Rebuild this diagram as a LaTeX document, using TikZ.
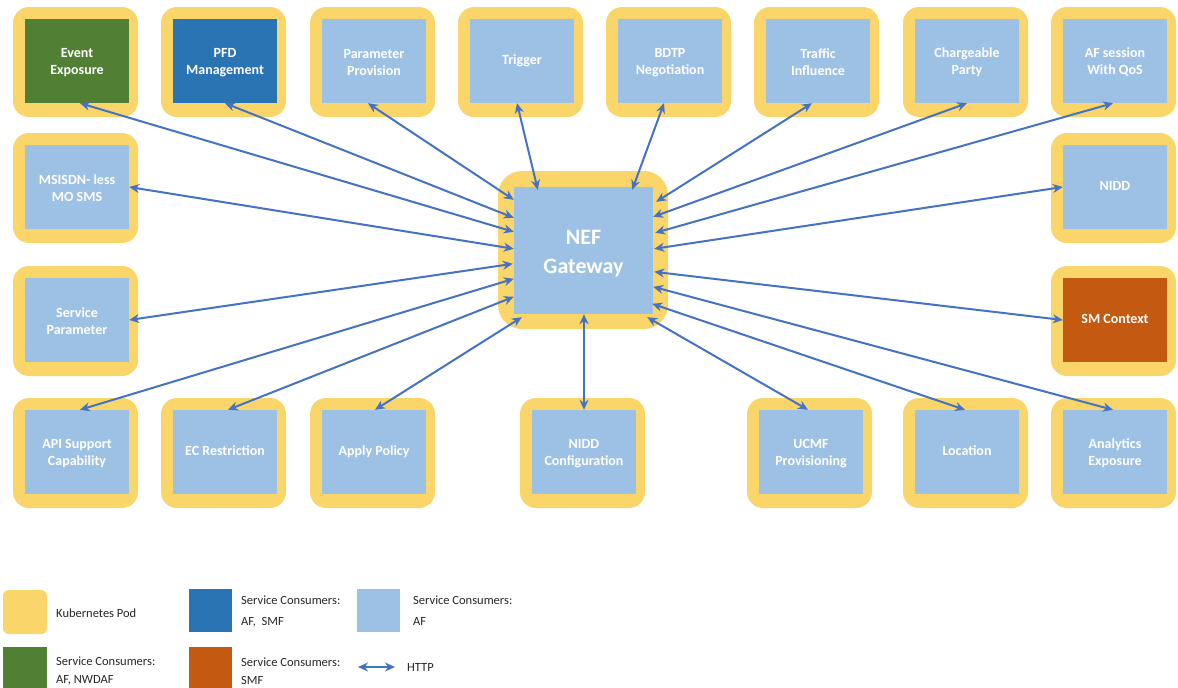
\documentclass[tikz,border=0pt]{standalone}
\usepackage{fontspec}
\setmainfont{Carlito}
\usetikzlibrary{arrows.meta,calc}
\definecolor{podyellow}{HTML}{FAD66A}
\definecolor{afblue}{HTML}{9DC1E4}
\definecolor{smfblue}{HTML}{2A74B4}
\definecolor{nwgreen}{HTML}{517F33}
\definecolor{smforange}{HTML}{C45911}
\definecolor{httpblue}{HTML}{4472C4}
\definecolor{legendtext}{HTML}{262626}

% one service: yellow pod with a coloured service box on top
% #1 name, #2 left, #3 top of the pod, #4 fill colour, #5 label
\newcommand\svc[5]{%
  \node[pod] (#1pod) at ({#2+62.5},{#3+55}) {};
  \node[svcbox, fill=#4] (#1) at ({#2+64},{#3+54}) {\strut#5};
}

\begin{document}
\begin{tikzpicture}[x=1pt,y=-1pt,
  pod/.style={fill=podyellow, draw=none, rounded corners=16pt,
    minimum width=125pt, minimum height=110pt, inner sep=0pt},
  svcbox/.style={draw=none, minimum width=104pt, minimum height=84pt,
    inner sep=0pt, text=white, align=center,
    font=\fontsize{14}{17.5}\selectfont\bfseries},
  http/.style={draw=httpblue, line width=2pt,
    {Stealth[length=10pt,width=9pt]}-{Stealth[length=10pt,width=9pt]}},
  swatch/.style={draw=none, minimum width=43pt, minimum height=43pt, inner sep=0pt},
  legend/.style={anchor=west, align=left, inner sep=0pt, text=legendtext,
    font=\fontsize{12.5}{21}\selectfont},
]
\useasboundingbox (0,0) rectangle (1178,688);

% top row
\svc{ee}{13}{7}{nwgreen}{Event\\Exposure}
\svc{pfd}{161}{7}{smfblue}{PFD\\Management}
\svc{pp}{310}{7}{afblue}{Parameter\\Provision}
\svc{trg}{458}{7}{afblue}{Trigger}
\svc{bdtp}{606}{7}{afblue}{BDTP\\Negotiation}
\svc{ti}{754}{7}{afblue}{Traffic\\Influence}
\svc{cp}{903}{7}{afblue}{Chargeable\\Party}
\svc{afq}{1051}{7}{afblue}{AF session\\With QoS}

% side columns
\svc{ms}{13}{133}{afblue}{MSISDN- less\\MO SMS}
\svc{nidd}{1051}{133}{afblue}{NIDD}
\svc{spar}{13}{266}{afblue}{Service\\Parameter}
\svc{smc}{1051}{266}{smforange}{SM Context}

% bottom row
\svc{api}{13}{398}{afblue}{API Support\\Capability}
\svc{ec}{161}{398}{afblue}{EC Restriction}
\svc{ap}{310}{398}{afblue}{Apply Policy}
\svc{nc}{520}{398}{afblue}{NIDD\\Configuration}
\svc{ucmf}{747}{398}{afblue}{UCMF\\Provisioning}
\svc{loc}{903}{398}{afblue}{Location}
\svc{ae}{1051}{398}{afblue}{Analytics\\Exposure}

% gateway
\node[pod, rounded corners=24pt, minimum width=170pt, minimum height=158pt]
  (nefpod) at (583,250) {};
\node[svcbox, fill=afblue, minimum width=139pt, minimum height=127pt,
  font=\fontsize{22}{29}\selectfont\bfseries] (nef) at (583.5,250.5) {\strut NEF\\Gateway};

% HTTP links to the gateway
\draw[http] ([xshift=-6pt]pp.south)   -- ($(nef.north west)+(0,13)$);
\draw[http] (pfd.south)               -- ($(nef.north west)+(0,31)$);
\draw[http] ([xshift=3pt]ee.south)    -- ($(nef.north west)+(0,45)$);
\draw[http] (ms.east)                 -- ($(nef.north west)+(0,62)$);
\draw[http] (spar.east)               -- ($(nef.north west)+(-1,77)$);
\draw[http] ([xshift=3pt]api.north)   -- ($(nef.north west)+(0,92)$);
\draw[http] ([xshift=3pt]ec.north)    -- ($(nef.north west)+(0,110)$);
\draw[http] ([xshift=1pt]ap.north)    -- ($(nef.south west)+(8,3)$);
\draw[http] ([xshift=-5pt]trg.south)  -- ($(nef.north west)+(24,3)$);
\draw[http] ([xshift=-6pt]bdtp.south) -- ($(nef.north east)+(-21,3)$);
\draw[http] ([xshift=-6pt]ti.south)   -- ($(nef.north east)+(3,15)$);
\draw[http] (cp.south)                -- ($(nef.north east)+(0,30)$);
\draw[http] ([xshift=-2pt]afq.south)  -- ($(nef.north east)+(2,46)$);
\draw[http] (nidd.west)               -- ($(nef.north east)+(1,62)$);
\draw[http] (smc.west)                -- ($(nef.north east)+(1,85)$);
\draw[http] ([xshift=-2pt]ae.north)   -- ($(nef.north east)+(0,100)$);
\draw[http] ([xshift=-2pt]loc.north)  -- ($(nef.north east)+(-1,117)$);
\draw[http] ([xshift=-3pt]ucmf.north) -- ($(nef.south east)+(-6,3)$);
\draw[http] (nc.north)                -- (nc.north |- nef.south);

% legend
\node[swatch, fill=podyellow, rounded corners=6pt, minimum width=44pt, minimum height=44pt]
  (lgpod) at (25,612) {};
\node[legend] (lgpodt) at (56,613) {Kubernetes Pod};
\node[swatch, fill=smfblue] (lgsmf) at (210.5,610.5) {};
\node[legend] (lgsmft) at (241,611) {Service Consumers:\\AF,\ \ SMF};
\node[swatch, fill=afblue] (lgaf) at (378,610.5) {};
\node[legend] (lgaft) at (413,611) {Service Consumers:\\AF};
\node[swatch, fill=nwgreen, minimum width=44pt] (lgnw) at (25,668) {};
\node[legend, font=\fontsize{12.5}{17.5}\selectfont] (lgnwt) at (56,671) {Service Consumers:\\AF, NWDAF};
\node[swatch, fill=smforange] (lgsmfo) at (210.5,668) {};
\node[legend, font=\fontsize{12.5}{17.5}\selectfont] (lgsmfot) at (241,671) {Service Consumers:\\SMF};
\coordinate (lghttpa) at (358,667);
\coordinate (lghttpb) at (395,667);
\draw[http] (lghttpa) -- (lghttpb);
\node[legend] (lghttpt) at (407,667) {HTTP};
\end{tikzpicture}
\end{document}
